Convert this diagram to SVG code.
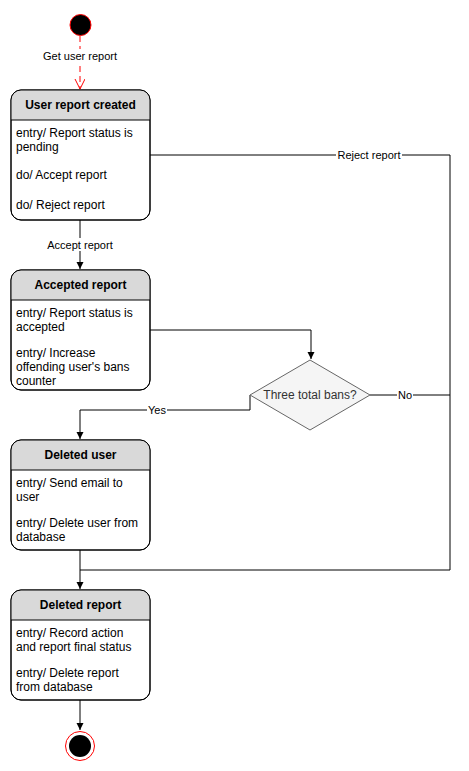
<svg xmlns="http://www.w3.org/2000/svg" width="469" height="771" viewBox="0 0 469 771">
<style>
.box{fill:#ffffff;stroke:#000000;stroke-width:1}
.hdr{fill:#d9d9d9;stroke:none}
.sep{stroke:#000000;stroke-width:1}
.title{font-family:"Liberation Sans",Arial,sans-serif;font-size:12px;font-weight:bold;fill:#000000;text-anchor:middle}
.body{font-family:"Liberation Sans",Arial,sans-serif;font-size:12px;fill:#000000}
.lbl{font-family:"Liberation Sans",Arial,sans-serif;font-size:11px;fill:#000000;text-anchor:middle}
.lblbg{fill:#ffffff}
.edge{fill:none;stroke:#000000;stroke-width:1}
</style>
<defs>
<marker id="arr" markerWidth="8" markerHeight="8" refX="7" refY="4" orient="auto" markerUnits="userSpaceOnUse">
<path d="M0,0.5 L7,4 L0,7.5 Z" fill="#000000"/>
</marker>
<marker id="open" markerWidth="12" markerHeight="12" refX="10" refY="5" orient="auto" markerUnits="userSpaceOnUse">
<path d="M0,0 L10,5 L0,10" fill="none" stroke="#ff0000" stroke-width="1"/>
</marker>
<clipPath id="c1"><rect x="11" y="90" width="139" height="130" rx="10"/></clipPath>
<clipPath id="c2"><rect x="11" y="270" width="139" height="120" rx="10"/></clipPath>
<clipPath id="c3"><rect x="11" y="440" width="139" height="110" rx="10"/></clipPath>
<clipPath id="c4"><rect x="11" y="590" width="139" height="110" rx="10"/></clipPath>
</defs>

<g id="connectors">
<path class="edge" d="M80,36 L80,89" stroke="#ff0000" stroke-dasharray="6,4" style="stroke:#ff0000" marker-end="url(#open)"/>
<rect class="lblbg" x="40" y="49" width="80" height="13"/>
<text class="lbl" x="80" y="60">Get user report</text>

<path class="edge" d="M80,220 L80,269" marker-end="url(#arr)"/>
<rect class="lblbg" x="45" y="238" width="70" height="13"/>
<text class="lbl" x="80" y="249">Accept report</text>

<path class="edge" d="M150,155 L450,155 L450,570 L80,570"/>
<rect class="lblbg" x="336" y="148" width="66" height="13"/>
<text class="lbl" x="369" y="159">Reject report</text>

<path class="edge" d="M150,330 L311,330 L311,359" marker-end="url(#arr)"/>

<path class="edge" d="M250,395 L250,410 L80,410 L80,439" marker-end="url(#arr)"/>
<rect class="lblbg" x="147" y="403" width="20" height="13"/>
<text class="lbl" x="157" y="414">Yes</text>

<path class="edge" d="M370,395 L450,395"/>
<rect class="lblbg" x="397" y="388" width="16" height="13"/>
<text class="lbl" x="405" y="399">No</text>

<path class="edge" d="M80,550 L80,589" marker-end="url(#arr)"/>
<path class="edge" d="M80,700 L80,730" marker-end="url(#arr)"/>
</g>

<g id="start">
<circle cx="80.5" cy="25" r="10.5" fill="#000000" stroke="#ff0000" stroke-width="1"/>
</g>

<g id="user-report-created">
<rect class="box" x="11" y="90" width="139" height="130" rx="10"/>
<rect class="hdr" x="11" y="90" width="139" height="30" clip-path="url(#c1)"/>
<rect x="11" y="90" width="139" height="130" rx="10" fill="none" stroke="#000000"/>
<line class="sep" x1="11" y1="120" x2="150" y2="120"/>
<text class="title" x="80.5" y="109">User report created</text>
<text class="body" x="16" y="137">entry/ Report status is</text>
<text class="body" x="16" y="151">pending</text>
<text class="body" x="16" y="179">do/ Accept report</text>
<text class="body" x="16" y="209">do/ Reject report</text>
</g>

<g id="accepted-report">
<rect class="box" x="11" y="270" width="139" height="120" rx="10"/>
<rect class="hdr" x="11" y="270" width="139" height="30" clip-path="url(#c2)"/>
<rect x="11" y="270" width="139" height="120" rx="10" fill="none" stroke="#000000"/>
<line class="sep" x1="11" y1="300" x2="150" y2="300"/>
<text class="title" x="80.5" y="289">Accepted report</text>
<text class="body" x="16" y="317">entry/ Report status is</text>
<text class="body" x="16" y="331">accepted</text>
<text class="body" x="16" y="357">entry/ Increase</text>
<text class="body" x="16" y="371">offending user's bans</text>
<text class="body" x="16" y="385">counter</text>
</g>

<g id="decision">
<path d="M310,360 L370,395 L310,430 L250,395 Z" fill="#f5f5f5" stroke="#666666" stroke-width="1"/>
<text x="310" y="399" font-family="Liberation Sans, Arial, sans-serif" font-size="12" fill="#333333" text-anchor="middle">Three total bans?</text>
</g>

<g id="deleted-user">
<rect class="box" x="11" y="440" width="139" height="110" rx="10"/>
<rect class="hdr" x="11" y="440" width="139" height="30" clip-path="url(#c3)"/>
<rect x="11" y="440" width="139" height="110" rx="10" fill="none" stroke="#000000"/>
<line class="sep" x1="11" y1="470" x2="150" y2="470"/>
<text class="title" x="80.5" y="459">Deleted user</text>
<text class="body" x="16" y="487">entry/ Send email to</text>
<text class="body" x="16" y="501">user</text>
<text class="body" x="16" y="527">entry/ Delete user from</text>
<text class="body" x="16" y="541">database</text>
</g>

<g id="deleted-report">
<rect class="box" x="11" y="590" width="139" height="110" rx="10"/>
<rect class="hdr" x="11" y="590" width="139" height="30" clip-path="url(#c4)"/>
<rect x="11" y="590" width="139" height="110" rx="10" fill="none" stroke="#000000"/>
<line class="sep" x1="11" y1="620" x2="150" y2="620"/>
<text class="title" x="80.5" y="609">Deleted report</text>
<text class="body" x="16" y="637">entry/ Record action</text>
<text class="body" x="16" y="651">and report final status</text>
<text class="body" x="16" y="677">entry/ Delete report</text>
<text class="body" x="16" y="691">from database</text>
</g>

<g id="end">
<circle cx="80" cy="746" r="14.5" fill="#ffffff" stroke="#ff0000" stroke-width="1"/>
<circle cx="80" cy="746" r="11" fill="#000000"/>
</g>
</svg>
